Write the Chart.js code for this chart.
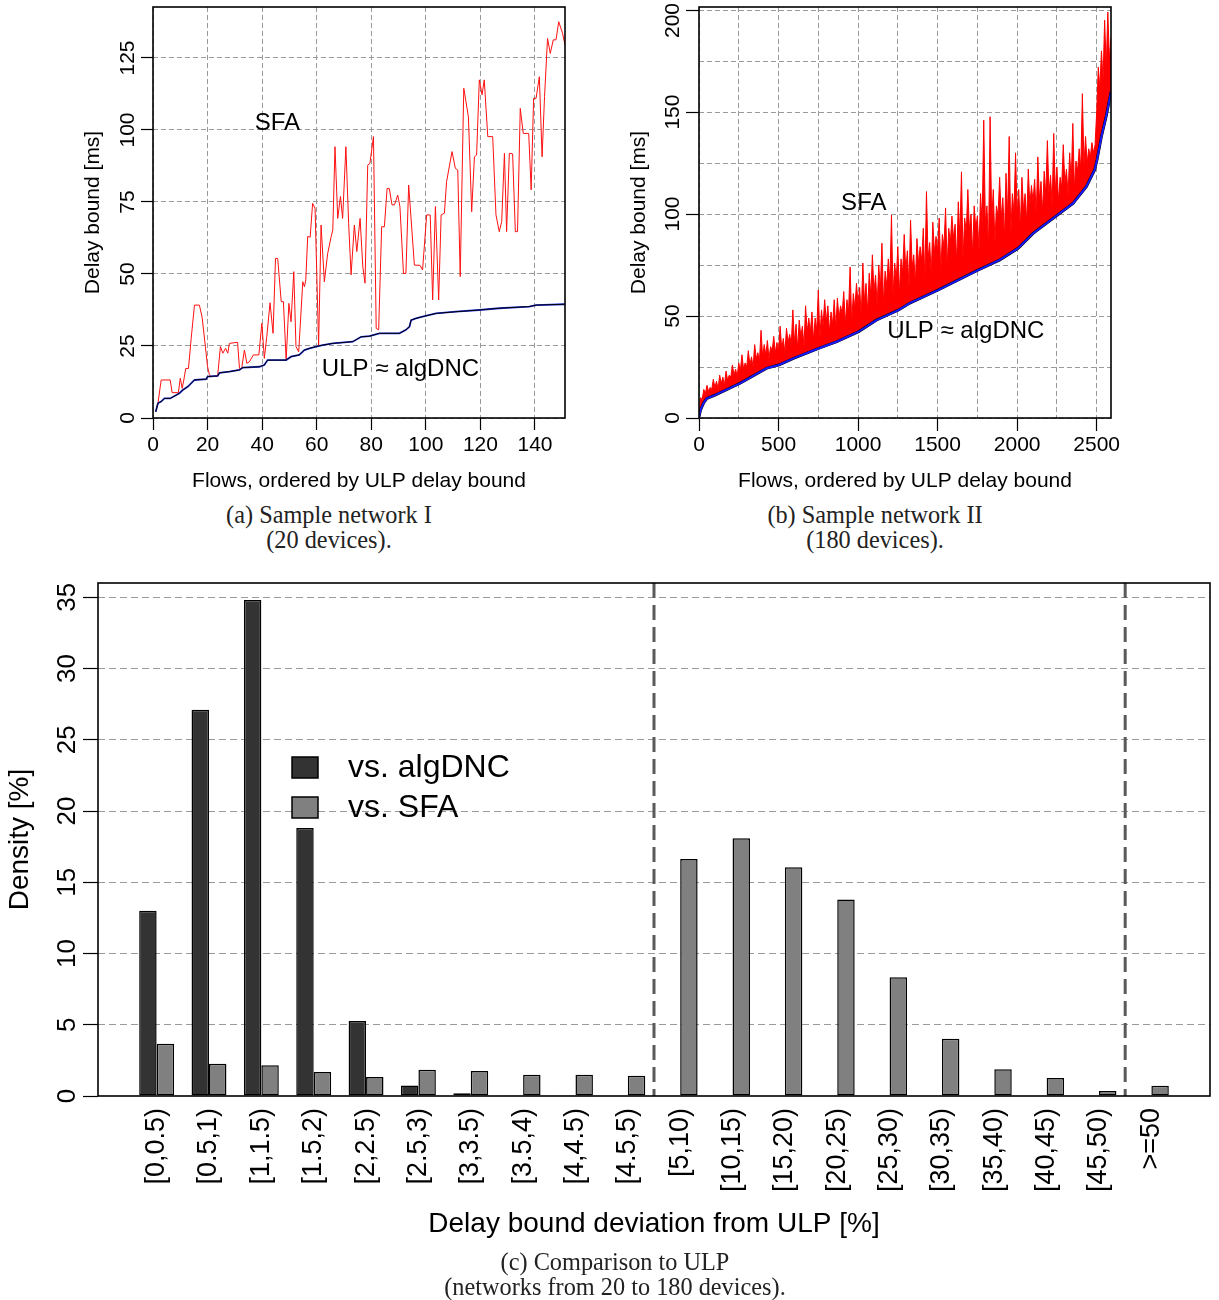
<!DOCTYPE html>
<html><head><meta charset="utf-8">
<script src="https://cdn.jsdelivr.net/npm/chart.js@4.4.1/dist/chart.umd.min.js"></script>
<style>
html,body{margin:0;padding:0;background:#fff;}
#wrap{position:relative;width:1219px;height:1300px;overflow:hidden;background:#fff;}
canvas{position:absolute;}
.cap{position:absolute;font-family:"Liberation Serif","DejaVu Serif",serif;font-size:24.3px;color:#222;text-align:center;white-space:nowrap;line-height:25px;width:400px;}
</style></head><body>
<div id="wrap">
<canvas id="ca" width="600" height="500" style="left:0;top:0"></canvas>
<canvas id="cb" width="619" height="500" style="left:600px;top:0"></canvas>
<canvas id="cc" width="1219" height="740" style="left:0;top:560px"></canvas>
<div class="cap" style="left:129px;top:502px">(a) Sample network I<br>(20 devices).</div>
<div class="cap" style="left:675px;top:502px">(b) Sample network II<br>(180 devices).</div>
<div class="cap" style="left:415px;top:1249px">(c) Comparison to ULP<br>(networks from 20 to 180 devices).</div>
</div>
<script>
// ---------- Panel (a): sample network I (flow, delay bound ms) ----------
const sfaA = [[1,2.2],[1.8,5],[3,13.2],[6.3,13.2],[7,8.8],[9.3,8.8],[10,13.8],[10.7,10.3],[11.3,13.2],[12,17.2],[13,17.2],[14,27.7],[15.2,39.2],[17,39.2],[18,35],[19.2,24.8],[20,17.8],[20.7,15],[21.3,14.4],[23.7,14.6],[24.7,24.8],[25.6,22.5],[26.6,24.2],[27.4,22.5],[28,25.9],[31,26.3],[31.7,17.2],[32.5,17.2],[33.5,23.6],[34.4,19],[35.3,19.5],[36.8,21.9],[38.8,21.9],[39.9,32.9],[40.8,20.7],[41.7,28.2],[42.9,40],[44,29.4],[44.9,55.4],[45.7,55.4],[47,40.4],[47.8,40.4],[48.8,20.1],[49.8,39.8],[50.6,33.4],[51.6,50.8],[52.4,24.8],[53.4,23],[54.9,47.3],[55.5,45.6],[56,48],[56.7,63],[57.6,62.8],[58.5,74.5],[59.4,72.8],[60.7,25.3],[61.6,67],[62.8,47.3],[64,57],[65.3,63],[65.9,65.3],[66.7,94.2],[67.7,69.3],[68.7,76.9],[69.5,69.3],[70.7,94.2],[71.7,67.6],[72.6,49.7],[73.8,67],[74.7,57.8],[75.9,69.3],[76.9,52.5],[77.7,46.8],[78.7,87.8],[79.5,88.4],[80.8,97.7],[81.8,31.1],[82.7,30.6],[83.8,66.4],[84.8,66.4],[85.8,79.7],[86.6,79.7],[87.6,74],[88.5,74],[89.7,77.4],[90.5,73.4],[91.8,50.2],[92.7,50.2],[93.7,80.9],[95.8,53.1],[97.9,53],[98.8,51.4],[100.3,70.5],[101.6,70.5],[102.5,41],[103.5,73.4],[104.7,41],[105.6,70.5],[106.8,71.1],[107.6,82.1],[109.6,92.5],[110.8,86.7],[111.7,86.1],[112.6,49.1],[113.9,114.5],[115.6,104.6],[116.8,71.6],[117.8,90.7],[118.6,91.3],[119.6,117.4],[120.6,112.2],[121.4,117.4],[122.7,97.7],[124.5,97.7],[125.7,70.5],[126.9,64.7],[127.8,68.2],[128.8,91.9],[129.6,64.7],[130.6,91.9],[131.8,91.7],[132.8,64.7],[133.6,64.7],[134.6,107.5],[135.7,98.8],[137.7,98.8],[138.6,79.2],[139.5,111],[140.4,111],[141.6,118.5],[142.6,90.7],[143.5,111.6],[144.6,131.8],[145.6,126.6],[146.7,131.3],[147.7,131.3],[148.7,137.6],[150.1,133.6],[151,129.5]];
const ulpA = [[1,2.2],[1.8,5.1],[3,5.7],[4.2,6.8],[6.3,6.8],[9.7,8.6],[10.9,9.7],[12.8,10.9],[15.2,13.2],[19.5,13.5],[20,14.4],[23.7,14.6],[24.4,15.7],[28,16.1],[31.7,16.7],[32.9,17.5],[39,17.8],[40.8,18.4],[42,20.1],[48.8,20.1],[50.6,21.3],[53.6,21.9],[55.5,23.6],[57.4,24.2],[59.8,24.8],[62.2,25.3],[65.9,25.9],[73.2,26.5],[76.3,28.2],[79.3,28.4],[83,29.4],[90.3,29.4],[92.7,30.6],[94,31.7],[94.6,34],[96.4,34.6],[98.8,35.2],[103.7,36.3],[111,36.9],[119.6,37.5],[126.9,38.1],[137.9,38.7],[140.4,39.2],[151,39.5]];
const algDNCA = ulpA;
const xTicksA = [0,20,40,60,80,100,120,140];
const yTicksA = [0,25,50,75,100,125];

// ---------- Panel (b): sample network II ----------
const sfaBStep = 10; // SFA sampled every 10 flows
const sfaB = [
0.5,10,9,14,12,16,13,15,14,19,
15,18,14.5,21,17,20,16,23,18.5,21,
20,26,21,24,20.5,27,23,31,24,27,
25,33,26,30,25,36,29,32,28,43,
30,36,31,38,29,35,33,40,32,37,
33,45,34,39,32,44,37,41,36,53,
37,46,34,48,40,45,35,55,42,49,
42,52,38,49,43,62.7,39,53,45,58,
47,55,42,52,46,58,44,58.8,49,55,
51,62,46,58,52,74,47,61,54,66,
56,64,50,76,57,66,52,71,60,80,
62,70,55,75,63,85.7,56,72,65,78,
67,99.5,60,76,68,84,61,78,71,90,
72,82,64,97,74,80,66,88,76,84,
77,93,68,111,78,86,70,96,81,89,
82,98,72,90,84,103,74,93,86,99,
88,95,76,106,89,120.7,78,98,91,112,
92,100,80,104,93,99,82,110,95,146,
96,104,84,147.7,97,112,86,104,99,118,
98,108,88,120,99,138,90,110,101,130,
100,112,93,118,102,110,96,122,104,114,
106,117,99,128,107,116,101,121,109,136,
110,119,104,139.5,111,123,106,118,113,134,
115,122,109,130,116,144.4,112,126,121,132,
122,159,124,138,125,132,128,135,130,134,
150,172,162,180,166,195,172,199,176,186];
const ulpB = [[0,0.5],[10,4],[30,7.5],[50,9.6],[100,11.2],[258,17],[425,24.4],[503,26],[593,29.2],[754,34.2],[865,37.4],[1003,42.3],[1116,48],[1254,52.9],[1325,56.3],[1503,62.7],[1755,72.5],[1891,77.5],[2006,83.2],[2100,90.5],[2253,99.5],[2351,105.2],[2435,113.4],[2487,121.6],[2502,126.5],[2530,138],[2560,148],[2590,160]];
const algDNCB = ulpB;
const xTicksB = [0,250,500,750,1000,1250,1500,1750,2000,2250,2500];
const yTicksB = [0,25,50,75,100,125,150,175,200];

// ---------- Panel (c): deviation histogram ----------
const bins = ['[0,0.5)','[0.5,1)','[1,1.5)','[1.5,2)','[2,2.5)','[2.5,3)','[3,3.5)','[3.5,4)','[4,4.5)','[4.5,5)','[5,10)','[10,15)','[15,20)','[20,25)','[25,30)','[30,35)','[35,40)','[40,45)','[45,50)','>=50'];
const vsAlgDNC = [13.0,27.1,34.8,18.8,5.26,0.74,0.2,0.06,0.05,0,0.03,0,0,0,0,0,0,0,0,0];
const vsSFA = [3.67,2.26,2.15,1.68,1.33,1.84,1.75,1.49,1.49,1.42,16.64,18.09,16.05,13.79,8.34,4.02,1.87,1.26,0.35,0.72];
const separatorsAfter = ['[4.5,5)','[45,50)'];
const yTicksC = [0,5,10,15,20,25,30,35];

// ---------- helpers ----------
const FONT = '"Liberation Sans", Arial, Helvetica, sans-serif';
Chart.defaults.font.family = FONT;
Chart.defaults.color = '#000';
const toXY = arr => arr.map(p => ({x:p[0], y:p[1]}));

const boxPlugin = {id:'box', afterDraw(chart){
  const {ctx, chartArea:a} = chart;
  ctx.save(); ctx.lineWidth = 1.6; ctx.strokeStyle = '#000'; ctx.setLineDash([]);
  ctx.strokeRect(a.left, a.top, a.right - a.left, a.bottom - a.top);
  ctx.restore();
}};
function makeYLabels(offset, size, show){
  return {id:'ylab', afterDraw(chart){
    const s = chart.scales.y, ctx = chart.ctx;
    ctx.save(); ctx.font = size + 'px ' + FONT; ctx.fillStyle = '#000';
    ctx.textAlign = 'center'; ctx.textBaseline = 'middle';
    s.ticks.forEach(t => {
      if (show && !show(t.value)) return;
      const txt = String(t.value);
      const half = ctx.measureText(txt).width / 2;
      let y = s.getPixelForValue(t.value);
      y = Math.min(Math.max(y, half + 3), chart.height - half - 3);
      ctx.save();
      ctx.translate(chart.chartArea.left - offset, y);
      ctx.rotate(-Math.PI/2); ctx.fillText(txt, 0, 0);
      ctx.restore();
    });
    ctx.restore();
  }};
}
function makeTexts(items, size){
  return {id:'texts', afterDatasetsDraw(chart){
    const ctx = chart.ctx, xs = chart.scales.x, ys = chart.scales.y;
    ctx.save(); ctx.font = size + 'px ' + FONT; ctx.fillStyle = '#000';
    ctx.textAlign = 'center'; ctx.textBaseline = 'middle';
    items.forEach(it => ctx.fillText(it.text, xs.getPixelForValue(it.x), ys.getPixelForValue(it.y)));
    ctx.restore();
  }};
}
function gridOpts(len, show){
  return {color:'#9a9a9a', lineWidth:1, drawTicks:true, tickLength:len, tickWidth:1.2,
    tickColor: c => (!show || (c.tick && show(c.tick.value))) ? '#000' : 'rgba(0,0,0,0)'};
}
const lineDs = (label, data, color, width, extra) => Object.assign({label, data, borderColor:color, borderWidth:width, pointRadius:0, tension:0, fill:false}, extra || {});

// ---------- chart (a) ----------
new Chart(document.getElementById('ca'), {
  type:'line',
  data:{datasets:[
    lineDs('algDNC', toXY(algDNCA), '#000000', 1),
    lineDs('ULP', toXY(ulpA), '#2030e0', 1.8),
    lineDs('SFA', toXY(sfaA), '#ff1010', 1)
  ]},
  options:{animation:false, responsive:false, events:[],
    layout:{padding:{left:0, right:35, top:7, bottom:0}},
    scales:{
      x:{type:'linear', min:0, max:151, bounds:'data',
        afterBuildTicks: s => { s.ticks = xTicksA.map(v => ({value:v})); },
        afterFit: s => { s.height = 82; },
        grid: gridOpts(12), border:{display:false, dash:[5,3]},
        ticks:{font:{size:21}, color:'#000', padding:3, maxRotation:0, autoSkip:false, callback: v => String(v)},
        title:{display:true, text:'Flows, ordered by ULP delay bound', font:{size:21}, color:'#000', padding:{top:0, bottom:6.4}}},
      y:{type:'linear', min:0, max:142.7, bounds:'data',
        afterBuildTicks: s => { s.ticks = yTicksA.map(v => ({value:v})); },
        afterFit: s => { s.width = 153; },
        grid: gridOpts(12), border:{display:false, dash:[5,3]},
        ticks:{display:false},
        title:{display:true, text:'Delay bound [ms]', font:{size:21}, color:'#000', padding:{top:80.4, bottom:0}}}
    },
    plugins:{legend:{display:false}, tooltip:{enabled:false}}
  },
  plugins:[boxPlugin, makeYLabels(25, 21), makeTexts([{x:45.6, y:102.4, text:'SFA'}, {x:90.7, y:17, text:'ULP \u2248 algDNC'}], 24)]
});

// ---------- chart (b) ----------
const show500 = v => v % 500 === 0;
const show50 = v => v % 50 === 0;
new Chart(document.getElementById('cb'), {
  type:'line',
  data:{datasets:[
    lineDs('ULP', toXY(ulpB), '#1a1aff', 2),
    lineDs('algDNC', toXY(algDNCB), '#000000', 2.8),
    lineDs('SFA', sfaB.map((v, i) => ({x: i * sfaBStep, y: v})), '#ff0000', 1, {fill:'-2', backgroundColor:'#ff0000'})
  ]},
  options:{animation:false, responsive:false, events:[],
    layout:{padding:{left:0, right:108, top:7, bottom:0}},
    scales:{
      x:{type:'linear', min:0, max:2590, bounds:'data',
        afterBuildTicks: s => { s.ticks = xTicksB.map(v => ({value:v})); },
        afterFit: s => { s.height = 82; },
        grid: gridOpts(13, show500), border:{display:false, dash:[5,3]},
        ticks:{font:{size:21}, color:'#000', padding:2, maxRotation:0, autoSkip:false, callback: v => show500(v) ? String(v) : ''},
        title:{display:true, text:'Flows, ordered by ULP delay bound', font:{size:21}, color:'#000', padding:{top:0, bottom:6.4}}},
      y:{type:'linear', min:0, max:201.5, bounds:'data',
        afterBuildTicks: s => { s.ticks = yTicksB.map(v => ({value:v})); },
        afterFit: s => { s.width = 99; },
        grid: gridOpts(13, show50), border:{display:false, dash:[5,3]},
        ticks:{display:false},
        title:{display:true, text:'Delay bound [ms]', font:{size:21}, color:'#000', padding:{top:26.4, bottom:0}}}
    },
    plugins:{legend:{display:false}, tooltip:{enabled:false}, filler:{propagate:false}}
  },
  plugins:[boxPlugin, makeYLabels(26, 21, show50), makeTexts([{x:1036, y:105.4, text:'SFA'}, {x:1677, y:42.4, text:'ULP \u2248 algDNC'}], 24)]
});

// ---------- chart (c) ----------
const groupX = i => 2 + 3 * i;
const sepPlugin = {id:'sep', afterDatasetsDraw(chart){
  const {ctx, chartArea:a} = chart, xs = chart.scales.x;
  ctx.save(); ctx.strokeStyle = '#5a5a5a'; ctx.lineWidth = 3; ctx.setLineDash([15,7]);
  separatorsAfter.forEach(lbl => {
    const px = xs.getPixelForValue(groupX(bins.indexOf(lbl)) + 1.5);
    ctx.beginPath(); ctx.moveTo(px, a.top); ctx.lineTo(px, a.bottom); ctx.stroke();
  });
  ctx.restore();
}};
const legendPlugin = {id:'leg', afterDatasetsDraw(chart){
  const ctx = chart.ctx;
  ctx.save(); ctx.font = '32px ' + FONT; ctx.textBaseline = 'middle'; ctx.textAlign = 'left';
  chart.data.datasets.forEach((ds, i) => {
    const y = 197 + i * 40;
    ctx.fillStyle = ds.backgroundColor; ctx.fillRect(292, y, 26, 21);
    ctx.strokeStyle = '#000'; ctx.lineWidth = 1.5; ctx.strokeRect(292, y, 26, 21);
    ctx.fillStyle = '#000'; ctx.fillText(ds.label, 348, y + 11);
  });
  ctx.restore();
}};
new Chart(document.getElementById('cc'), {
  type:'bar',
  data:{datasets:[
    {label:'vs. algDNC', data: vsAlgDNC.map((v, i) => ({x: groupX(i), y: v})), backgroundColor:'#333333', borderColor:'#000', borderWidth:1.5, borderSkipped:false, categoryPercentage:2/3, barPercentage:1},
    {label:'vs. SFA', data: vsSFA.map((v, i) => ({x: groupX(i), y: v})), backgroundColor:'#808080', borderColor:'#000', borderWidth:1.5, borderSkipped:false, categoryPercentage:2/3, barPercentage:1}
  ]},
  options:{animation:false, responsive:false, events:[],
    layout:{padding:{left:0, right:9, top:23, bottom:0}},
    scales:{
      x:{type:'linear', min:-1.36, max:62.36, bounds:'data', offset:false,
        afterBuildTicks: s => { s.ticks = bins.map((b, i) => ({value: groupX(i)})); },
        afterFit: s => { s.height = 204; },
        grid:{display:false, drawTicks:false, offset:false}, border:{display:false},
        ticks:{autoSkip:false, minRotation:90, maxRotation:90, padding:12, font:{size:27}, color:'#000', callback: (v, i) => bins[i]},
        title:{display:true, text:'Delay bound deviation from ULP [%]', font:{size:28}, color:'#000', padding:{top:0, bottom:59.2}}},
      y:{type:'linear', min:0, max:36, bounds:'data',
        afterBuildTicks: s => { s.ticks = yTicksC.map(v => ({value:v})); },
        afterFit: s => { s.width = 98; },
        grid:{color: c => (c.tick && c.tick.value === 0) ? 'rgba(0,0,0,0)' : '#9a9a9a', lineWidth:1, drawTicks:true, tickLength:15, tickWidth:1.2, tickColor:'#000'},
        border:{display:false, dash:[7,4]},
        ticks:{display:false},
        title:{display:true, text:'Density [%]', font:{size:28}, color:'#000', padding:{top:3.9, bottom:0}}}
    },
    plugins:{legend:{display:false}, tooltip:{enabled:false}}
  },
  plugins:[boxPlugin, makeYLabels(30.5, 26), sepPlugin, legendPlugin]
});
</script>
</body></html>
